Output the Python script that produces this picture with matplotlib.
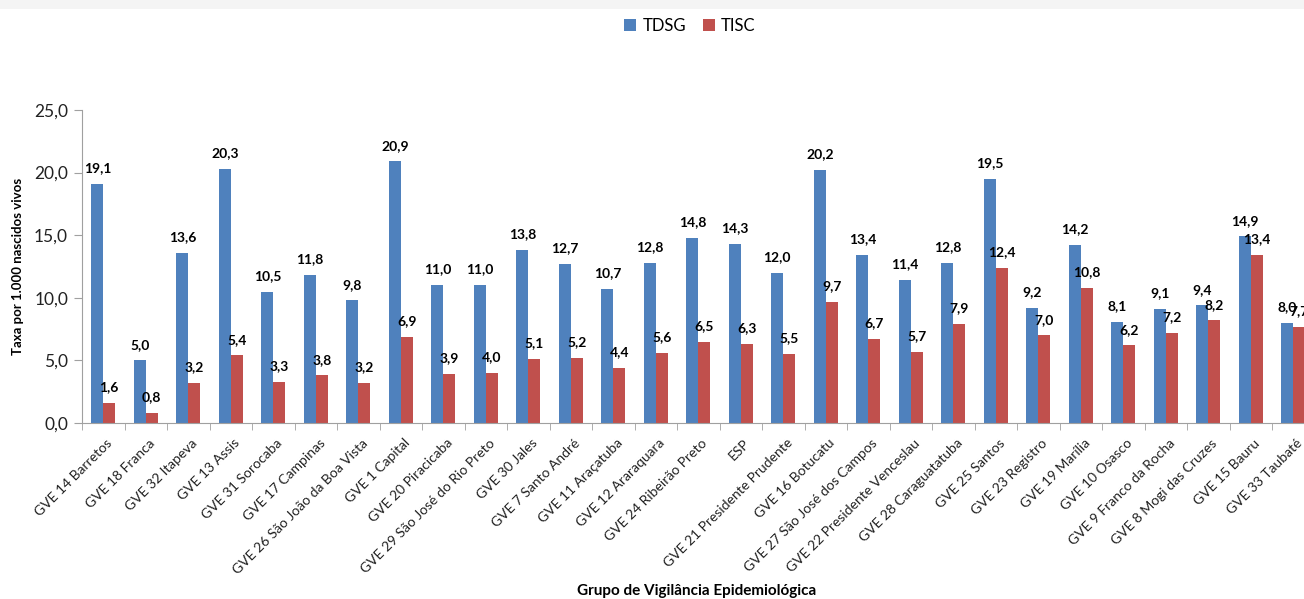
import matplotlib
matplotlib.use("Agg")
import matplotlib.pyplot as plt
import matplotlib.transforms as mtransforms
from matplotlib.patches import Rectangle
import numpy as np

categories = ["GVE 14 Barretos", "GVE 18 Franca", "GVE 32 Itapeva", "GVE 13 Assis",
              "GVE 31 Sorocaba", "GVE 17 Campinas", "GVE 26 São João da Boa Vista",
              "GVE 1 Capital", "GVE 20 Piracicaba", "GVE 29 São José do Rio Preto",
              "GVE 30 Jales", "GVE 7 Santo André", "GVE 11 Araçatuba", "GVE 12 Araraquara",
              "GVE 24 Ribeirão Preto", "ESP", "GVE 21 Presidente Prudente", "GVE 16 Botucatu",
              "GVE 27 São José dos Campos", "GVE 22 Presidente Venceslau", "GVE 28 Caraguatatuba",
              "GVE 25 Santos", "GVE 23 Registro", "GVE 19 Marília", "GVE 10 Osasco",
              "GVE 9 Franco da Rocha", "GVE 8 Mogi das Cruzes", "GVE 15 Bauru", "GVE 33 Taubaté"]
tdsg = [19.1, 5.0, 13.6, 20.3, 10.5, 11.8, 9.8, 20.9, 11.0, 11.0, 13.8, 12.7, 10.7, 12.8,
        14.8, 14.3, 12.0, 20.2, 13.4, 11.4, 12.8, 19.5, 9.2, 14.2, 8.1, 9.1, 9.4, 14.9, 8.0]
tisc = [1.6, 0.8, 3.2, 5.4, 3.3, 3.8, 3.2, 6.9, 3.9, 4.0, 5.1, 5.2, 4.4, 5.6,
        6.5, 6.3, 5.5, 9.7, 6.7, 5.7, 7.9, 12.4, 7.0, 10.8, 6.2, 7.2, 8.2, 13.4, 7.7]
series_names = ["TDSG", "TISC"]
yticks = [0, 5, 10, 15, 20, 25]

plt.rcParams['font.family'] = ['Lato', 'DejaVu Sans']

W, H = 1304, 599
fig = plt.figure(figsize=(W/100, H/100), dpi=100)
fig.patch.set_facecolor("white")
# gray strip at top
fig.add_artist(Rectangle((0, 1 - 9/H), 1, 9/H, transform=fig.transFigure,
                         facecolor="#f4f4f4", edgecolor="none"))

left_px, right_px, bottom_px, top_px = 82, 1314.5, 423, 110
ax = fig.add_axes([left_px/W, 1 - bottom_px/H, (right_px-left_px)/W, (bottom_px-top_px)/H])

x = np.arange(len(categories))
bw = 0.28
blue, red = "#4F81BD", "#C0504D"
b1 = ax.bar(x - bw/2, tdsg, bw, color=blue, label=series_names[0])
b2 = ax.bar(x + bw/2, tisc, bw, color=red, label=series_names[1])

def fmt(v):
    return f"{v:.1f}".replace(".", ",")

for bars, vals in ((b1, tdsg), (b2, tisc)):
    for r, v in zip(bars, vals):
        ax.annotate(fmt(v), (r.get_x() + r.get_width()/2, v), xytext=(0, 7),
                    textcoords="offset points", ha="center", va="bottom",
                    fontsize=10, fontweight="bold", color="black", clip_on=False)

ax.set_xlim(-0.5, len(categories) - 0.5)
ax.set_ylim(0, 25)
ax.set_yticks(yticks)
ax.set_yticklabels([fmt(v) for v in yticks], fontsize=12.5, color="#222222")
ax.set_xticks(x)
ax.set_xticks(np.arange(-0.5, len(categories)), minor=True)
ax.tick_params(axis="x", which="major", length=0)
ax.tick_params(axis="x", which="minor", length=5, color="#a0a0a0", direction="out")
ax.tick_params(axis="y", length=6, color="#a0a0a0", direction="out", pad=4)
offset = mtransforms.ScaledTranslation(3/100, -9/100, fig.dpi_scale_trans)
ax.set_xticklabels(categories, rotation=45, ha="right", va="top",
                   rotation_mode="anchor", fontsize=10, color="#222222")
for lab in ax.get_xticklabels():
    lab.set_transform(lab.get_transform() + offset)

for s in ("top", "right"):
    ax.spines[s].set_visible(False)
for s in ("left", "bottom"):
    ax.spines[s].set_color("#a0a0a0")

fig.text(18/W, 1 - 266/H, "Taxa por 1.000 nascidos vivos", rotation=90,
         ha="center", va="center", fontsize=9.5, fontweight="bold")
fig.text(697/W, 1 - 591/H, "Grupo de Vigilância Epidemiológica",
         ha="center", va="center", fontsize=11, fontweight="bold")

leg = fig.legend(handles=[b1, b2], labels=series_names, loc="center",
                 bbox_to_anchor=(690/W, 1 - 26/H), ncol=2, frameon=False,
                 fontsize=12, handlelength=0.7, handleheight=0.7,
                 handletextpad=0.4, columnspacing=1.0)

fig.savefig("out.png", dpi=100)
